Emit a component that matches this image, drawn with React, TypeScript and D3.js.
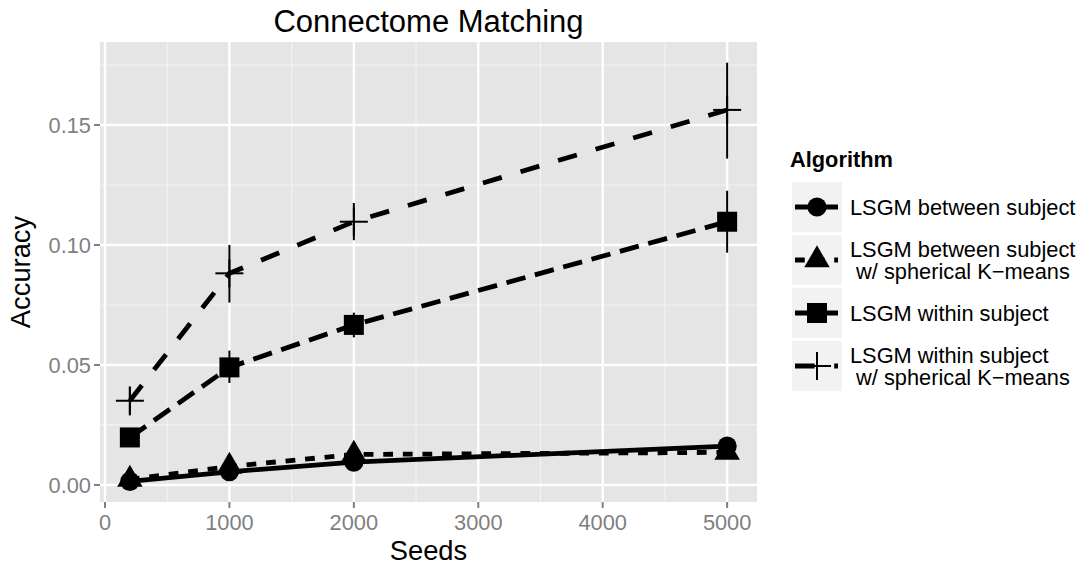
import React from "react";
import * as d3 from "d3";

const seeds = [200, 1000, 2000, 5000];
const algorithms = [
  "LSGM between subject",
  "LSGM between subject\n w/ spherical K\u2212means",
  "LSGM within subject",
  "LSGM within subject\n w/ spherical K\u2212means",
];
const betweenMean = [0.0015, 0.0055, 0.0095, 0.0162];
const betweenLo = [0.0008, 0.0045, 0.0085, 0.0150];
const betweenHi = [0.0022, 0.0065, 0.0105, 0.0174];
const betweenSphMean = [0.0023, 0.0077, 0.0127, 0.0136];
const betweenSphLo = [0.0013, 0.0065, 0.0115, 0.0124];
const betweenSphHi = [0.0033, 0.0089, 0.0139, 0.0148];
const withinMean = [0.0198, 0.0490, 0.0667, 0.1097];
const withinLo = [0.0165, 0.0425, 0.0615, 0.0968];
const withinHi = [0.0230, 0.0560, 0.0718, 0.1226];
const withinSphMean = [0.0351, 0.0882, 0.1097, 0.1563];
const withinSphLo = [0.0290, 0.0760, 0.1020, 0.1360];
const withinSphHi = [0.0410, 0.1000, 0.1175, 0.1760];

const xTicks = [0, 1000, 2000, 3000, 4000, 5000];
const xMinor = [500, 1500, 2500, 3500, 4500];
const yTicks = [0, 0.05, 0.1, 0.15];
const yMinor = [0.025, 0.075, 0.125, 0.175];

const FONT = "'Liberation Sans', Arial, Helvetica, sans-serif";
const U = 4.9; // R lwd dash unit
const LW = 4.8;

const series = [
  { name: algorithms[0], mean: betweenMean, lo: betweenLo, hi: betweenHi, shape: "circle", dash: "none" },
  { name: algorithms[1], mean: betweenSphMean, lo: betweenSphLo, hi: betweenSphHi, shape: "triangle", dash: `${2 * U},${2 * U}` },
  { name: algorithms[2], mean: withinMean, lo: withinLo, hi: withinHi, shape: "square", dash: `${4 * U},${2 * U}` },
  { name: algorithms[3], mean: withinSphMean, lo: withinSphLo, hi: withinSphHi, shape: "cross", dash: `${4 * U},${4 * U}` },
];

function Marker({ shape, x, y }: { shape: string; x: number; y: number }) {
  if (shape === "circle") return <circle cx={x} cy={y} r={9.6} fill="black" />;
  if (shape === "triangle") {
    const r = 14.7;
    const pts = [
      [x, y - r],
      [x + r * Math.sqrt(3) / 2, y + r / 2],
      [x - r * Math.sqrt(3) / 2, y + r / 2],
    ];
    return <polygon points={pts.map((p) => p.join(",")).join(" ")} fill="black" />;
  }
  if (shape === "square") return <rect x={x - 10} y={y - 10} width={20} height={20} fill="black" />;
  return (
    <g stroke="black" strokeWidth={2}>
      <line x1={x - 14} x2={x + 14} y1={y} y2={y} />
      <line x1={x} x2={x} y1={y - 14} y2={y + 14} />
    </g>
  );
}

export default function App() {
  const pL = 100, pR = 757, pT = 42, pB = 502;
  const x = d3.scaleLinear().domain([-40, 5240]).range([pL, pR]);
  const y = d3.scaleLinear().domain([-0.0071, 0.1846]).range([pB, pT]);
  const line = d3
    .line<number>()
    .x((_, i) => x(seeds[i]))
    .y((d) => y(d));

  const keyX0 = 792, keyW = 50, keyH = 50;
  const keyYs = [182, 235, 288, 341];

  return (
    <svg width={1092} height={567} style={{ position: "absolute", left: 0, top: 0, background: "white" }} fontFamily={FONT}>
      <rect width={1092} height={567} fill="white" />
      {/* panel */}
      <rect x={pL} y={pT} width={pR - pL} height={pB - pT} fill="#e5e5e5" />
      <clipPath id="panel">
        <rect x={pL} y={pT} width={pR - pL} height={pB - pT} />
      </clipPath>
      <g clipPath="url(#panel)">
        {xMinor.map((v) => (
          <line key={"xm" + v} x1={x(v)} x2={x(v)} y1={pT} y2={pB} stroke="#f2f2f2" strokeWidth={1.2} />
        ))}
        {yMinor.map((v) => (
          <line key={"ym" + v} x1={pL} x2={pR} y1={y(v)} y2={y(v)} stroke="#f2f2f2" strokeWidth={1.2} />
        ))}
        {xTicks.map((v) => (
          <line key={"xg" + v} x1={x(v)} x2={x(v)} y1={pT} y2={pB} stroke="white" strokeWidth={2.4} />
        ))}
        {yTicks.map((v) => (
          <line key={"yg" + v} x1={pL} x2={pR} y1={y(v)} y2={y(v)} stroke="white" strokeWidth={2.4} />
        ))}
        {series.map((s) => (
          <path key={"l" + s.name} d={line(s.mean) || ""} fill="none" stroke="black" strokeWidth={LW} strokeDasharray={s.dash} />
        ))}
        {series.map((s) =>
          seeds.map((sd, i) => (
            <line key={"e" + s.name + sd} x1={x(sd)} x2={x(sd)} y1={y(s.lo[i])} y2={y(s.hi[i])} stroke="black" strokeWidth={2} />
          ))
        )}
        {series.map((s) =>
          seeds.map((sd, i) => <Marker key={"m" + s.name + sd} shape={s.shape} x={x(sd)} y={y(s.mean[i])} />)
        )}
      </g>
      {/* axes ticks */}
      {xTicks.map((v) => (
        <g key={"xt" + v}>
          <line x1={x(v)} x2={x(v)} y1={pB} y2={pB + 6} stroke="#7f7f7f" strokeWidth={2} />
          <text x={x(v)} y={530} textAnchor="middle" fontSize={21.8} fill="#7f7f7f">
            {v}
          </text>
        </g>
      ))}
      {yTicks.map((v) => (
        <g key={"yt" + v}>
          <line x1={pL - 6} x2={pL} y1={y(v)} y2={y(v)} stroke="#7f7f7f" strokeWidth={2} />
          <text x={pL - 9} y={y(v) + 7.8} textAnchor="end" fontSize={21.8} fill="#7f7f7f">
            {d3.format(".2f")(v)}
          </text>
        </g>
      ))}
      {/* titles */}
      <text x={(pL + pR) / 2} y={560} textAnchor="middle" fontSize={27.3} fill="black">
        Seeds
      </text>
      <text transform={`translate(30,${(pT + pB) / 2}) rotate(-90)`} textAnchor="middle" fontSize={27.3} fill="black">
        Accuracy
      </text>
      <text x={(pL + pR) / 2} y={32} textAnchor="middle" fontSize={31} fill="black">
        Connectome Matching
      </text>
      {/* legend */}
      <text x={790} y={167} fontSize={21.8} fontWeight="bold" fill="black">
        Algorithm
      </text>
      {series.map((s, k) => {
        const ky = keyYs[k];
        const cy = ky + keyH / 2;
        const lines = s.name.split("\n");
        const lh = 22;
        return (
          <g key={"lg" + k}>
            <rect x={keyX0} y={ky} width={keyW} height={keyH} fill="#f2f2f2" />
            <line x1={795} x2={838} y1={cy} y2={cy} stroke="black" strokeWidth={LW} strokeDasharray={s.dash} />
            <Marker shape={s.shape} x={817} y={cy} />
            {lines.map((t, j) => (
              <text
                key={j}
                x={850}
                y={cy - ((lines.length - 1) * lh) / 2 + j * lh + 7.8}
                fontSize={21.8}
                fill="black"
                style={{ whiteSpace: "pre" }}
              >
                {t}
              </text>
            ))}
          </g>
        );
      })}
    </svg>
  );
}
